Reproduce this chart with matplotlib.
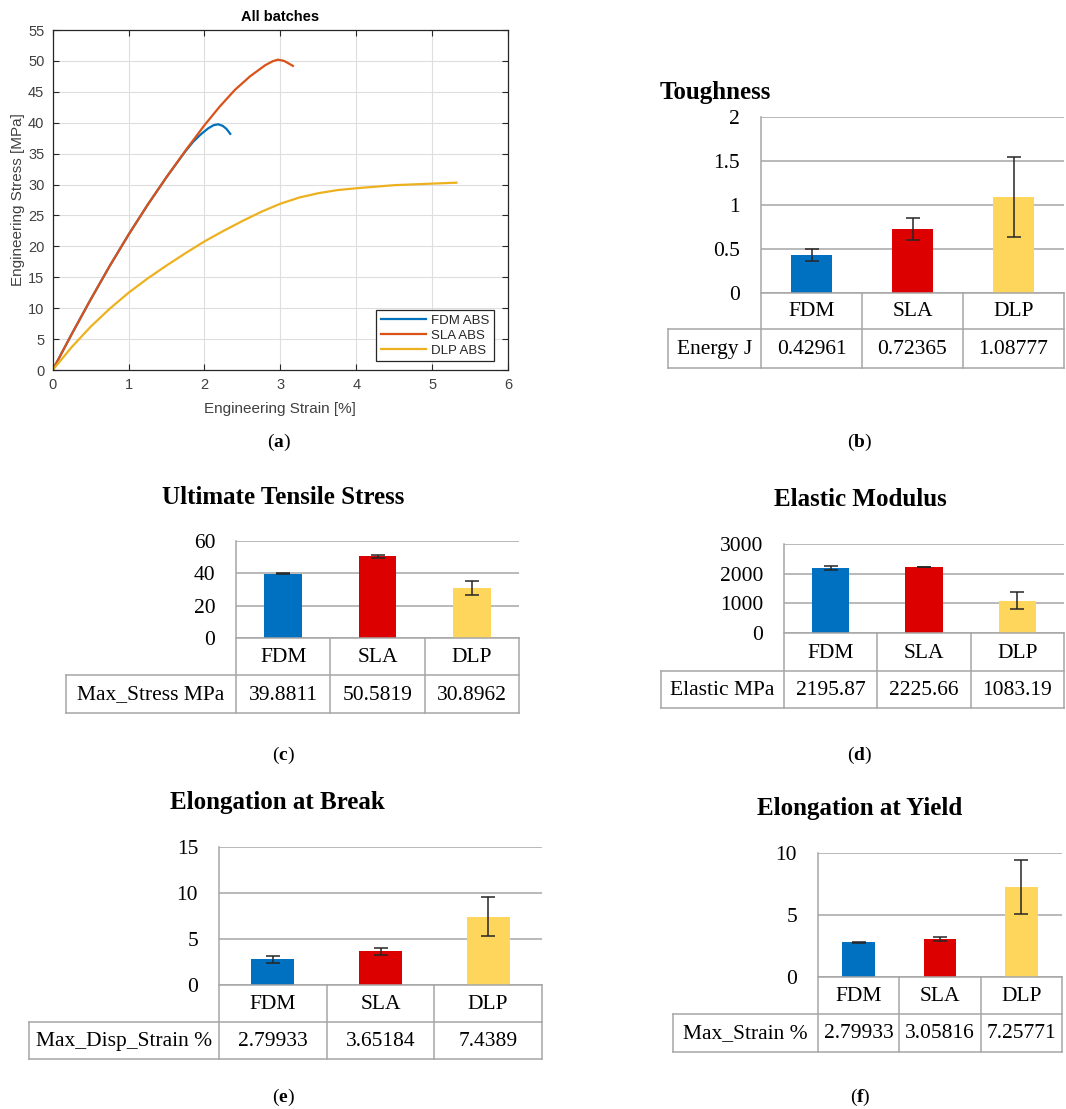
import numpy as np
import matplotlib.pyplot as plt
from matplotlib.transforms import Affine2D
from matplotlib.lines import Line2D

plt.rcParams['mathtext.fontset'] = 'custom'
plt.rcParams['mathtext.rm'] = 'Liberation Serif'
plt.rcParams['mathtext.bf'] = 'Liberation Serif:bold'

W, H = 1066, 1109
SERIF = 'Liberation Serif'
SANS = 'Liberation Sans'
GRID = '#a6a6a6'

# (a) stress-strain curves
fdm_strain = [0, 0.25, 0.5, 0.75, 1.0, 1.25, 1.5, 1.75, 1.85, 1.95, 2.05, 2.12, 2.18, 2.24, 2.29, 2.34]
fdm_stress = [0, 5.8, 11.4, 16.8, 21.9, 26.7, 31.2, 35.4, 36.9, 38.1, 39.1, 39.6, 39.75, 39.5, 39.0, 38.2]
sla_strain = [0, 0.25, 0.5, 0.75, 1.0, 1.25, 1.5, 1.75, 2.0, 2.2, 2.4, 2.6, 2.8, 2.9, 2.97, 3.05, 3.165]
sla_stress = [0, 5.8, 11.4, 16.8, 21.9, 26.7, 31.2, 35.5, 39.6, 42.6, 45.3, 47.5, 49.3, 49.95, 50.2, 50.0, 49.2]
dlp_strain = [0, 0.25, 0.5, 0.75, 1.0, 1.25, 1.5, 1.75, 2.0, 2.25, 2.5, 2.75, 3.0, 3.25,
              3.5, 3.75, 4.0, 4.5, 5.0, 5.32]
dlp_stress = [0, 3.7, 7.0, 9.9, 12.5, 14.8, 16.9, 18.9, 20.8, 22.5, 24.1, 25.6, 26.9, 27.9,
              28.6, 29.1, 29.4, 29.9, 30.15, 30.3]
curve_labels = ['FDM ABS', 'SLA ABS', 'DLP ABS']
curve_colors = ['#0072BD', '#D95319', '#EDB120']

# (b)-(f) bar charts with data tables
categories = ['FDM', 'SLA', 'DLP']
bar_colors = ['#0070C0', '#DD0000', '#FFD65C']

toughness = [0.42961, 0.72365, 1.08777]
toughness_err = [0.068, 0.125, 0.453]
toughness_txt = ['0.42961', '0.72365', '1.08777']

uts = [39.8811, 50.5819, 30.8962]
uts_err = [0.3, 1.0, 4.3]
uts_txt = ['39.8811', '50.5819', '30.8962']

modulus = [2195.87, 2225.66, 1083.19]
modulus_err = [75, 12, 290]
modulus_txt = ['2195.87', '2225.66', '1083.19']

brk = [2.79933, 3.65184, 7.4389]
brk_err = [0.38, 0.37, 2.08]
brk_txt = ['2.79933', '3.65184', '7.4389']

yld = [2.79933, 3.05816, 7.25771]
yld_err = [0.05, 0.15, 2.2]
yld_txt = ['2.79933', '3.05816', '7.25771']

fig = plt.figure(figsize=(W / 100, H / 100), dpi=100)
PX = Affine2D().scale(1 / W, -1 / H).translate(0, 1) + fig.transFigure


def px_axes(left, top, right, bottom):
    return fig.add_axes([left / W, 1 - bottom / H,
                         (right - left) / W, (bottom - top) / H])


def line(xs, ys):
    fig.add_artist(Line2D(xs, ys, transform=PX, color=GRID, lw=1.1))


def panel_label(x, y, letter):
    fig.text(x, y, '($\\mathbf{' + letter + '}$)', transform=PX,
             ha='center', va='center', family=SERIF, fontsize=14)


def bar_panel(box, table_left, rows, title, title_xy, ymax, ystep,
              values, errors, row_label, cells):
    left, top, right, y0 = box
    cat_bot, data_bot = rows
    ax = px_axes(left, top, right, y0)
    x = np.arange(len(categories))
    ax.bar(x, values, width=0.4, color=bar_colors, zorder=2)
    ax.errorbar(x, values, yerr=errors, fmt='none', ecolor='#262626',
                elinewidth=1.1, capsize=4.8, capthick=1.1, zorder=3)
    ax.set_xlim(-0.5, len(categories) - 0.5)
    ax.set_ylim(0, ymax)
    ticks = np.arange(0, ymax + ystep / 2, ystep)
    ax.set_yticks(ticks)
    ax.set_yticklabels([f'{t:g}' for t in ticks], family=SERIF, fontsize=15.5)
    ax.set_xticks([])
    ax.grid(axis='y', color=GRID, lw=1.1)
    ax.set_axisbelow(True)
    for s in ['top', 'right', 'bottom', 'left']:
        ax.spines[s].set_visible(False)
    ax.tick_params(axis='y', length=0, pad=15)

    # data table under the plot
    ncol = len(categories)
    colw = (right - left) / ncol
    line([left, left], [top, data_bot])
    line([left, right], [y0, y0])
    line([table_left, right], [cat_bot, cat_bot])
    line([table_left, right], [data_bot, data_bot])
    line([table_left, table_left], [cat_bot, data_bot])
    for i in range(1, ncol + 1):
        xc = left + i * colw
        line([xc, xc], [y0, data_bot])
    for i, (c, t) in enumerate(zip(categories, cells)):
        xc = left + (i + 0.5) * colw
        fig.text(xc, (y0 + cat_bot) / 2 + 1, c, transform=PX, ha='center',
                 va='center', family=SERIF, fontsize=15.5)
        fig.text(xc, (cat_bot + data_bot) / 2 + 1, t, transform=PX, ha='center',
                 va='center', family=SERIF, fontsize=15.5)
    fig.text((table_left + left) / 2, (cat_bot + data_bot) / 2 + 1, row_label,
             transform=PX, ha='center', va='center', family=SERIF, fontsize=15.5)
    fig.text(title_xy[0], title_xy[1], title, transform=PX, ha='center',
             va='center', family=SERIF, fontsize=18, fontweight='bold')


# ---- (a) ----
ax = px_axes(52.7, 30, 508, 370)
for xs, ys, lab, col in zip([fdm_strain, sla_strain, dlp_strain],
                            [fdm_stress, sla_stress, dlp_stress],
                            curve_labels, curve_colors):
    ax.plot(xs, ys, color=col, lw=1.6, label=lab)
ax.set_xlim(0, 6)
ax.set_ylim(0, 55)
ax.set_xticks(range(0, 7))
ax.set_yticks(range(0, 56, 5))
ax.grid(True, color='#dedede', lw=0.8)
ax.set_axisbelow(True)
for s in ax.spines.values():
    s.set_color('#262626')
    s.set_linewidth(0.9)
ax.tick_params(direction='in', length=4, top=True, right=True, width=0.8,
               color='#262626', labelcolor='#404040', labelsize=10.5, pad=6)
for lab in ax.get_xticklabels() + ax.get_yticklabels():
    lab.set_family(SANS)
leg = ax.legend(loc='lower right', bbox_to_anchor=(0.969, 0.026), borderaxespad=0,
                prop={'family': SANS, 'size': 9.5}, handlelength=3.4,
                handletextpad=0.4, labelspacing=0.2, borderpad=0.35,
                fancybox=False, framealpha=1, edgecolor='#262626')
leg.get_frame().set_linewidth(0.9)
for t in leg.get_texts():
    t.set_color('#262626')
fig.text(280, 17, 'All batches', transform=PX, ha='center', va='center',
         family=SANS, fontsize=10.5, fontweight='bold')
fig.text(280, 409, 'Engineering Strain [%]', transform=PX, ha='center', va='center',
         family=SANS, fontsize=11, color='#404040')
fig.text(18, 200, 'Engineering Stress [MPa]', transform=PX, ha='center', va='center',
         family=SANS, fontsize=11, color='#404040', rotation=90)
panel_label(279, 442, 'a')

# ---- (b)-(f) ----
bar_panel((761, 117, 1064, 293), 668, (329, 368), 'Toughness', (715, 93),
          2, 0.5, toughness, toughness_err, 'Energy J', toughness_txt)
panel_label(860, 442, 'b')

bar_panel((236, 541, 519, 638), 66, (675, 713), 'Ultimate Tensile Stress',
          (283, 497), 60, 20, uts, uts_err, 'Max_Stress MPa', uts_txt)
panel_label(283, 755, 'c')

bar_panel((784, 544, 1064, 633), 661, (671, 708), 'Elastic Modulus',
          (860, 500), 3000, 1000, modulus, modulus_err, 'Elastic MPa', modulus_txt)
panel_label(860, 755, 'd')

bar_panel((219, 847, 542, 985), 29, (1022, 1059), 'Elongation at Break',
          (277, 803), 15, 5, brk, brk_err, 'Max_Disp_Strain %', brk_txt)
panel_label(283, 1097, 'e')

bar_panel((818, 853, 1062, 977), 673, (1014, 1052), 'Elongation at Yield',
          (860, 809), 10, 5, yld, yld_err, 'Max_Strain %', yld_txt)
panel_label(860, 1097, 'f')

fig.savefig('out.png', dpi=100)
